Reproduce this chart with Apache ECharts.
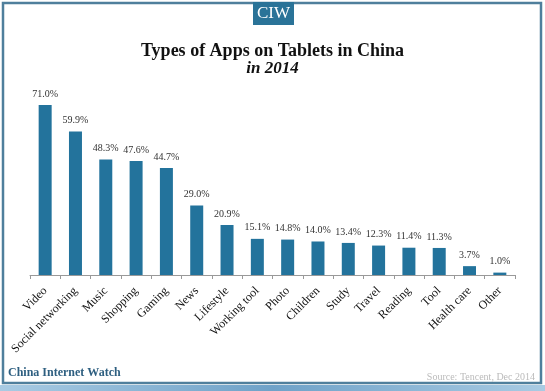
<!DOCTYPE html>
<html><head><meta charset="utf-8">
<script src="https://cdn.jsdelivr.net/npm/echarts@6/dist/echarts.min.js"></script>
<style>html,body{margin:0;padding:0;background:#fff}#c{width:545px;height:391px}</style>
</head><body><div id="c"></div>
<script>
var categories = ['Video','Social networking','Music','Shopping','Gaming','News','Lifestyle','Working tool','Photo','Children','Study','Travel','Reading','Tool','Health care','Other'];
var values = [71.0,59.9,48.3,47.6,44.7,29.0,20.9,15.1,14.8,14.0,13.4,12.3,11.4,11.3,3.7,1.0];

var chart = echarts.init(document.getElementById('c'));
var serif = '"Liberation Serif","DejaVu Serif",serif';
chart.setOption({
  animation:false,
  backgroundColor:'#fff',
  title:[
    {text:'Types of Apps on Tablets in China',left:'center',top:37,textStyle:{fontFamily:serif,fontWeight:'bold',fontSize:18,color:'#111'}},
    {text:'in 2014',left:'center',top:55,textStyle:{fontFamily:serif,fontWeight:'bold',fontStyle:'italic',fontSize:17,color:'#111'}}
  ],
  grid:{left:30,right:30,top:83.5,bottom:116},
  xAxis:{type:'category',data:categories,
    axisLine:{lineStyle:{color:'#999',width:1}},
    axisTick:{show:true,alignWithLabel:false,length:4,inside:false,lineStyle:{color:'#999'}},
    axisLabel:{rotate:45,interval:0,fontFamily:serif,fontSize:12,color:'#111',margin:14}
  },
  yAxis:{type:'value',min:0,max:80,show:false,splitLine:{show:false}},
  series:[{type:'bar',data:values,barWidth:13,itemStyle:{color:'#23739c'},
    label:{show:true,position:'top',distance:6,fontFamily:serif,fontSize:10,color:'#333',formatter:function(p){return p.value.toFixed(1)+'%';}}
  }],
  graphic:[
    {type:'rect',shape:{x:3,y:3,width:538,height:380},style:{fill:'none',stroke:'#4f7f9c',lineWidth:2.5},z:10},
    {type:'rect',shape:{x:0,y:385,width:545,height:6},style:{fill:new echarts.graphic.LinearGradient(0,0,1,0,[{offset:0,color:'#a9cbe3'},{offset:0.5,color:'#6fa2c8'},{offset:1,color:'#a9cbe3'}])},z:10},
    {type:'rect',shape:{x:253,y:2,width:41,height:23},style:{fill:'#2a7398'},z:11},
    {type:'text',x:273.5,y:14,style:{text:'CIW',fill:'#fff',font:'17px '+serif,align:'center',verticalAlign:'middle'},z:12},
    {type:'text',x:8,y:373,style:{text:'China Internet Watch',fill:'#2e5f80',font:'bold 12px '+serif,verticalAlign:'middle'},z:12},
    {type:'text',x:535,y:377,style:{text:'Source: Tencent, Dec 2014',fill:'#bbbbbb',font:'10px '+serif,align:'right',verticalAlign:'middle'},z:12}
  ]
});
</script></body></html>
